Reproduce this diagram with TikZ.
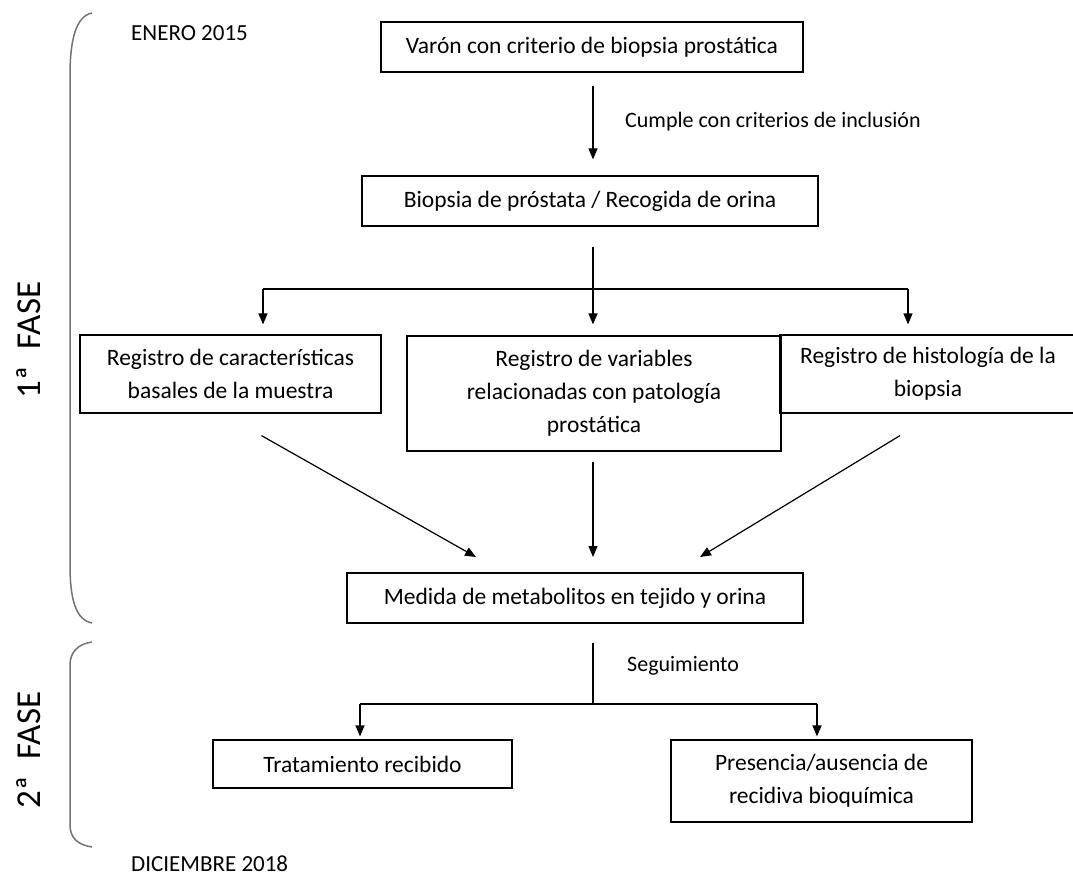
\documentclass[tikz,border=0pt]{standalone}
\usepackage{fontspec}
\setmainfont{Carlito}
\usetikzlibrary{arrows.meta,calc}
\begin{document}
\begin{tikzpicture}[x=1pt,y=-1pt,
  box/.style={draw=black,line width=1.2pt,align=center,inner sep=0pt,font=\fontsize{23.5}{33}\selectfont},
  arr/.style={line width=1.2pt,-{Triangle[length=11pt,width=9pt]}},
  ln/.style={line width=1.2pt},
  brace/.style={draw=black!55,line width=1.5pt},
  lbl/.style={font=\fontsize{22}{26}\selectfont,inner sep=0pt,anchor=west},
  fase/.style={font=\fontsize{35}{38}\selectfont,rotate=90,inner sep=0pt}]
\useasboundingbox (0,0) rectangle (1073,877);
% braces
\draw[brace] (92,13) .. controls (76,16) and (70,40) .. (70,75) -- (70,565) .. controls (70,600) and (76,620) .. (92,623);
\draw[brace] (92,642) .. controls (78,644) and (70,652) .. (70,665) -- (70,825) .. controls (70,838) and (78,845) .. (92,847);
\node[fase] (f1) at (29,340) {1ª\enspace FASE};
\node[fase] (f2) at (29,750) {2ª\enspace FASE};
\node[lbl,font=\fontsize{23}{26}\selectfont] (d1) at (131,33) {ENERO 2015};
\node[lbl,font=\fontsize{23}{26}\selectfont] (d2) at (131,864) {DICIEMBRE 2018};
% boxes
\node[box,minimum width=422pt,minimum height=50pt] (b1) at (592,47) {Varón con criterio de biopsia prostática};
\node[box,minimum width=456pt,minimum height=50pt] (b2) at (590,201) {Biopsia de próstata / Recogida de orina};
\node[box,minimum width=301pt,minimum height=78pt] (b3) at (230.5,374) {Registro de características\\basales de la muestra};
\node[box,minimum width=374pt,minimum height=115pt] (b4) at (594,393.5) {Registro de variables\\relacionadas con patología\\prostática};
\node[box,minimum width=296pt,minimum height=78pt] (b5) at (928,374) {Registro de histología de la\\biopsia};
\node[box,minimum width=456pt,minimum height=50pt] (b6) at (575,598) {Medida de metabolitos en tejido y orina};
\node[box,minimum width=299pt,minimum height=48pt] (b7) at (362.5,764) {Tratamiento recibido};
\node[box,minimum width=301pt,minimum height=82pt] (b8) at (821.5,781) {Presencia/ausencia de\\recidiva bioquímica};
% connectors
\coordinate (s1) at ($(b1.south)+(1,13)$);
\coordinate (e1) at ($(b2.north)+(3,-16)$);
\draw[arr] (s1) -- (e1);
\node[lbl] (l1) at (625,122) {Cumple con criterios de inclusión};
\coordinate (s2) at ($(b2.south)+(3,20)$);
\coordinate (j2) at (593,289);
\coordinate (jl) at (263,289);
\coordinate (jr) at (908,289);
\draw[arr] (s2) -- ($(s2 |- b4.north)+(0,-11)$);
\draw[ln] (jl) -- (jr);
\draw[arr] (jl) -- ($(jl |- b3.north)+(0,-10)$);
\draw[arr] (jr) -- ($(jr |- b5.north)+(0,-10)$);
\coordinate (m1) at (476,557);
\coordinate (m2) at (593,557);
\coordinate (m3) at (700,557);
\draw[arr] ($(b3.south)+(31,22)$) -- (m1);
\draw[arr] ($(b4.south)+(-1,10)$) -- (m2);
\draw[arr] ($(b5.south)+(-28,22)$) -- (m3);
\coordinate (s6) at ($(b6.south)+(18,19)$);
\coordinate (j6) at (593,704);
\coordinate (j6l) at (360,704);
\coordinate (j6r) at (817,704);
\draw[ln] (s6) -- (j6);
\draw[ln] (j6l) -- (j6r);
\draw[arr] (j6l) -- ($(j6l |- b7.north)+(0,-3)$);
\draw[arr] (j6r) -- ($(j6r |- b8.north)+(0,-3)$);
\node[lbl] (l2) at (627,666) {Seguimiento};
\end{tikzpicture}
\end{document}
